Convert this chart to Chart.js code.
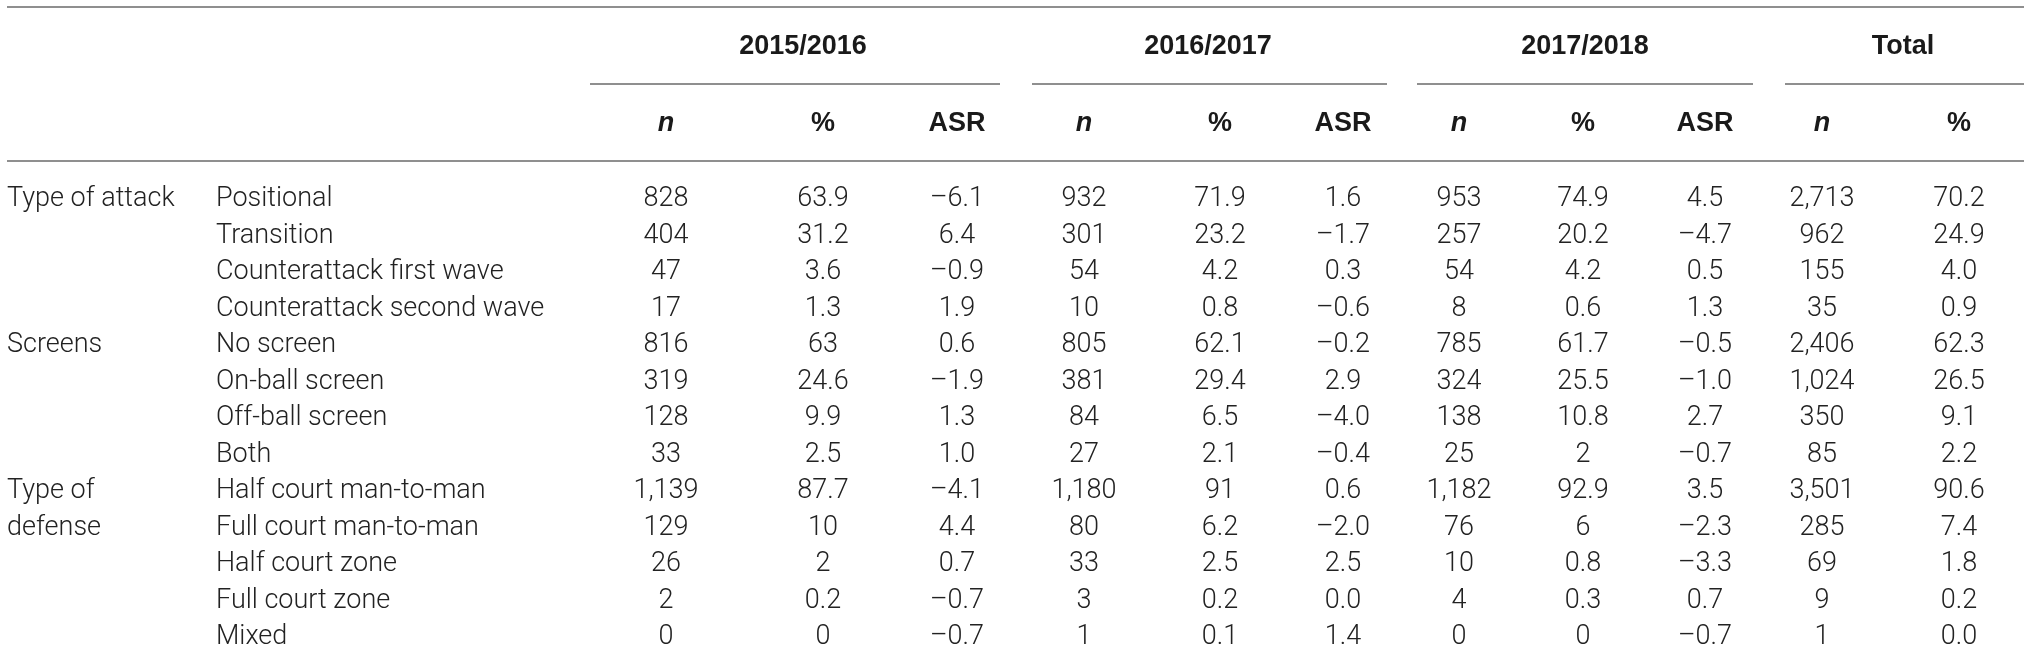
<!DOCTYPE html>
<html>
<head>
<meta charset="utf-8">
<script src="https://cdn.jsdelivr.net/npm/chart.js@4.4.1/dist/chart.umd.min.js"></script>
<style>
  html, body { margin: 0; padding: 0; background: #ffffff; }
  canvas { display: block; }
</style>
</head>
<body>
<canvas id="c" width="2031" height="672"></canvas>
<script>
// ---------------- DATA ----------------
const seasons = ['2015/2016', '2016/2017', '2017/2018', 'Total'];
const subHeaders = ['n', '%', 'ASR', 'n', '%', 'ASR', 'n', '%', 'ASR', 'n', '%'];
const groupLabels = [['Type of attack'], ['Screens'], ['Type of', 'defense']];
const groupStartRows = [0, 4, 8];
const rowLabels = ['Positional', 'Transition', 'Counterattack first wave', 'Counterattack second wave',
  'No screen', 'On-ball screen', 'Off-ball screen', 'Both',
  'Half court man-to-man', 'Full court man-to-man', 'Half court zone', 'Full court zone', 'Mixed'];

const n_2015_16   = [828, 404, 47, 17, 816, 319, 128, 33, 1139, 129, 26, 2, 0];
const pct_2015_16 = [63.9, 31.2, 3.6, 1.3, 63, 24.6, 9.9, 2.5, 87.7, 10, 2, 0.2, 0];
const asr_2015_16 = [-6.1, 6.4, -0.9, 1.9, 0.6, -1.9, 1.3, 1.0, -4.1, 4.4, 0.7, -0.7, -0.7];

const n_2016_17   = [932, 301, 54, 10, 805, 381, 84, 27, 1180, 80, 33, 3, 1];
const pct_2016_17 = [71.9, 23.2, 4.2, 0.8, 62.1, 29.4, 6.5, 2.1, 91, 6.2, 2.5, 0.2, 0.1];
const asr_2016_17 = [1.6, -1.7, 0.3, -0.6, -0.2, 2.9, -4.0, -0.4, 0.6, -2.0, 2.5, 0.0, 1.4];

const n_2017_18   = [953, 257, 54, 8, 785, 324, 138, 25, 1182, 76, 10, 4, 0];
const pct_2017_18 = [74.9, 20.2, 4.2, 0.6, 61.7, 25.5, 10.8, 2, 92.9, 6, 0.8, 0.3, 0];
const asr_2017_18 = [4.5, -4.7, 0.5, 1.3, -0.5, -1.0, 2.7, -0.7, 3.5, -2.3, -3.3, 0.7, -0.7];

const n_total     = [2713, 962, 155, 35, 2406, 1024, 350, 85, 3501, 285, 69, 9, 1];
const pct_total   = [70.2, 24.9, 4.0, 0.9, 62.3, 26.5, 9.1, 2.2, 90.6, 7.4, 1.8, 0.2, 0.0];

// ---------------- LAYOUT (positions in table units) ----------------
const LABEL_X = [7, 216];
const COL_X = [666, 823, 957, 1084, 1220, 1343, 1459, 1583, 1705, 1822, 1959];
const GROUP_X = [803, 1208, 1585, 1903];
const SUB_RULES = [[590, 1000], [1032, 1387], [1417, 1753], [1785, 2024]];
const FULL_RULE = [7, 2024];
const ROW_PITCH = 36.5, ROW0_PX = 199.5, H = 672, W = 2031;
const Y_MIN = -ROW0_PX / ROW_PITCH, Y_MAX = Y_MIN + H / ROW_PITCH;
const Y_GROUP_HDR = (47 - ROW0_PX) / ROW_PITCH;
const Y_SUB_HDR = (124 - ROW0_PX) / ROW_PITCH;
const Y_TOP_RULE = (7 - ROW0_PX) / ROW_PITCH;
const Y_SUB_RULE = (83.5 - ROW0_PX) / ROW_PITCH;
const Y_HDR_RULE = (161 - ROW0_PX) / ROW_PITCH;

// ---------------- STYLE ----------------
const BODY_FONT = '300 27px Roboto, "Liberation Sans", Arial, sans-serif';
const HEAD_FONT = 'bold 27px "Liberation Sans", Arial, sans-serif';
const HEAD_IT_FONT = 'italic bold 27px "Liberation Sans", Arial, sans-serif';
const TEXT_COLOR = '#222222';
const HEAD_COLOR = '#1a1a1a';
const RULE_COLOR = '#8f8f8f';

// ---------------- FORMATTERS ----------------
const fmtN = v => v.toLocaleString('en-US');
const fmtPct = v => String(v);
const fmt1 = v => v.toFixed(1).replace('-', '\u2013');
const fmtAsr = v => (Math.abs(v) < 1e-9 ? '0.0' : v.toFixed(1).replace('-', '\u2013'));

const valueCols = [
  [n_2015_16, fmtN], [pct_2015_16, fmtPct], [asr_2015_16, fmtAsr],
  [n_2016_17, fmtN], [pct_2016_17, fmtPct], [asr_2016_17, fmtAsr],
  [n_2017_18, fmtN], [pct_2017_18, fmtPct], [asr_2017_18, fmtAsr],
  [n_total, fmtN], [pct_total, fmt1]
];

function textDataset(points, texts, font, align, color) {
  return {
    data: points, texts: texts, font: font, align: align, color: color,
    pointRadius: 0, pointHoverRadius: 0, pointHitRadius: 0, showLine: false
  };
}

const datasets = [];
// group labels (left column)
datasets.push(textDataset(groupStartRows.map(r => ({ x: LABEL_X[0], y: r })), groupLabels, BODY_FONT, 'left', TEXT_COLOR));
// row labels
datasets.push(textDataset(rowLabels.map((_, i) => ({ x: LABEL_X[1], y: i })), rowLabels.map(s => [s]), BODY_FONT, 'left', TEXT_COLOR));
// value columns
valueCols.forEach((col, c) => {
  const [vals, f] = col;
  datasets.push(textDataset(vals.map((_, i) => ({ x: COL_X[c], y: i })), vals.map(v => [f(v)]), BODY_FONT, 'center', TEXT_COLOR));
});
// season headers
datasets.push(textDataset(seasons.map((_, i) => ({ x: GROUP_X[i], y: Y_GROUP_HDR })), seasons.map(s => [s]), HEAD_FONT, 'center', HEAD_COLOR));
// sub headers
subHeaders.forEach((s, i) => {
  datasets.push(textDataset([{ x: COL_X[i], y: Y_SUB_HDR }], [[s]], s === 'n' ? HEAD_IT_FONT : HEAD_FONT, 'center', HEAD_COLOR));
});

const tablePlugin = {
  id: 'tableText',
  afterDatasetsDraw(chart) {
    const ctx = chart.ctx, xs = chart.scales.x, ys = chart.scales.y;
    ctx.save();
    // rules
    ctx.strokeStyle = RULE_COLOR;
    ctx.lineWidth = 2;
    const hLine = (x0, x1, yv) => {
      const y = Math.round(ys.getPixelForValue(yv));
      ctx.beginPath();
      ctx.moveTo(xs.getPixelForValue(x0), y);
      ctx.lineTo(xs.getPixelForValue(x1), y);
      ctx.stroke();
    };
    hLine(FULL_RULE[0], FULL_RULE[1], Y_TOP_RULE);
    SUB_RULES.forEach(r => hLine(r[0], r[1], Y_SUB_RULE));
    hLine(FULL_RULE[0], FULL_RULE[1], Y_HDR_RULE);
    // texts
    const pitch = Math.abs(ys.getPixelForValue(1) - ys.getPixelForValue(0));
    ctx.textBaseline = 'middle';
    chart.data.datasets.forEach((ds, di) => {
      const meta = chart.getDatasetMeta(di);
      ctx.font = ds.font;
      ctx.fillStyle = ds.color;
      ctx.textAlign = ds.align;
      meta.data.forEach((pt, i) => {
        const lines = ds.texts[i];
        lines.forEach((ln, k) => ctx.fillText(ln, pt.x, pt.y + k * pitch));
      });
    });
    ctx.restore();
  }
};

new Chart(document.getElementById('c'), {
  type: 'scatter',
  data: { datasets: datasets },
  options: {
    responsive: false,
    animation: false,
    devicePixelRatio: 1,
    events: [],
    layout: { padding: 0 },
    plugins: { legend: { display: false }, tooltip: { enabled: false } },
    scales: {
      x: { type: 'linear', display: false, min: 0, max: W },
      y: { type: 'linear', display: false, reverse: true, min: Y_MIN, max: Y_MAX }
    }
  },
  plugins: [tablePlugin]
});
</script>
</body>
</html>
